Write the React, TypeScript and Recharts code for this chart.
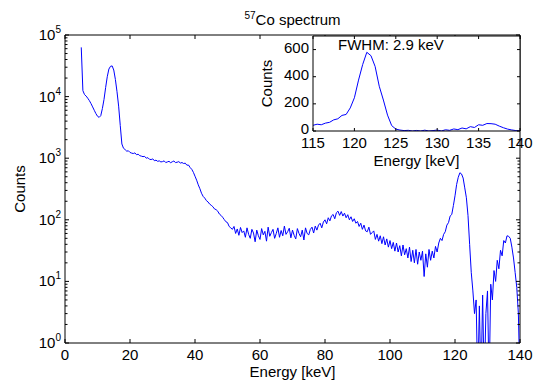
import { LineChart, Line, XAxis, YAxis, ReferenceLine, CartesianGrid } from 'recharts';

// 57Co spectrum, 0.5 keV bins
const energyKeV = [
  5, 5.5, 6, 6.5, 7, 7.5, 8, 8.5, 9, 9.5,
  10, 10.5, 11, 11.5, 12, 12.5, 13, 13.5, 14, 14.5,
  15, 15.5, 16, 16.5, 17, 17.5, 18, 18.5, 19, 19.5,
  20, 20.5, 21, 21.5, 22, 22.5, 23, 23.5, 24, 24.5,
  25, 25.5, 26, 26.5, 27, 27.5, 28, 28.5, 29, 29.5,
  30, 30.5, 31, 31.5, 32, 32.5, 33, 33.5, 34, 34.5,
  35, 35.5, 36, 36.5, 37, 37.5, 38, 38.5, 39, 39.5,
  40, 40.5, 41, 41.5, 42, 42.5, 43, 43.5, 44, 44.5,
  45, 45.5, 46, 46.5, 47, 47.5, 48, 48.5, 49, 49.5,
  50, 50.5, 51, 51.5, 52, 52.5, 53, 53.5, 54, 54.5,
  55, 55.5, 56, 56.5, 57, 57.5, 58, 58.5, 59, 59.5,
  60, 60.5, 61, 61.5, 62, 62.5, 63, 63.5, 64, 64.5,
  65, 65.5, 66, 66.5, 67, 67.5, 68, 68.5, 69, 69.5,
  70, 70.5, 71, 71.5, 72, 72.5, 73, 73.5, 74, 74.5,
  75, 75.5, 76, 76.5, 77, 77.5, 78, 78.5, 79, 79.5,
  80, 80.5, 81, 81.5, 82, 82.5, 83, 83.5, 84, 84.5,
  85, 85.5, 86, 86.5, 87, 87.5, 88, 88.5, 89, 89.5,
  90, 90.5, 91, 91.5, 92, 92.5, 93, 93.5, 94, 94.5,
  95, 95.5, 96, 96.5, 97, 97.5, 98, 98.5, 99, 99.5,
  100, 100.5, 101, 101.5, 102, 102.5, 103, 103.5, 104, 104.5,
  105, 105.5, 106, 106.5, 107, 107.5, 108, 108.5, 109, 109.5,
  110, 110.5, 111, 111.5, 112, 112.5, 113, 113.5, 114, 114.5,
  115, 115.5, 116, 116.5, 117, 117.5, 118, 118.5, 119, 119.5,
  120, 120.5, 121, 121.5, 122, 122.5, 123, 123.5, 124, 124.5,
  125, 125.5, 126, 126.5, 127, 127.5, 128, 128.5, 129, 129.5,
  130, 130.5, 131, 131.5, 132, 132.5, 133, 133.5, 134, 134.5,
  135, 135.5, 136, 136.5, 137, 137.5, 138, 138.5, 139, 139.5,
  140,
];

const counts = [
  63000, 12500, 10800, 10200, 9400, 8600, 7700, 6800, 6000, 5300,
  4800, 4600, 4900, 6400, 9000, 14000, 21000, 28000, 31000, 31500,
  27000, 19000, 12000, 7000, 3400, 1700, 1450, 1380, 1300, 1320,
  1240, 1210, 1190, 1220, 1140, 1160, 1100, 1080, 1060, 1070,
  1000, 1020, 960, 950, 975, 910, 930, 890, 905, 870,
  880, 905, 850, 870, 890, 845, 875, 900, 850, 860,
  880, 835, 850, 820, 830, 770, 775, 705, 660, 590,
  510, 440, 370, 320, 270, 240, 225, 205, 195, 180,
  172, 163, 150, 146, 138, 124, 118, 110, 101, 93,
  90, 78, 74, 70, 78, 60, 71, 56, 75, 62,
  66, 52, 74, 58, 50, 70, 61, 44, 68, 55,
  48, 72, 57, 65, 45, 76, 54, 62, 70, 50,
  60, 74, 52, 67, 55, 79, 58, 64, 73, 51,
  68, 56, 49, 72, 60, 53, 68, 47, 74, 60,
  57, 70, 76, 61, 79, 68, 82, 88, 74, 92,
  100, 86, 108, 96, 116, 122, 104, 130, 138, 118,
  136, 115, 128, 108, 121, 100, 112, 94, 104, 88,
  94, 78, 88, 70, 82, 66, 64, 76, 58, 62,
  66, 48, 58, 45, 55, 41, 53, 39, 49, 36,
  46, 34, 43, 31, 42, 30, 38, 26, 39, 27,
  34, 24, 36, 21, 32, 20, 33, 19, 30, 22,
  31, 12, 28, 17, 33, 22, 31, 24, 37, 30,
  42, 50, 46, 58, 64, 82, 90, 115, 122, 170,
  245, 375, 490, 580, 555, 476, 330, 228, 117, 40,
  14, 7, 3, 5, 0, 4, 0, 6, 0, 3,
  7, 0, 9, 5, 15, 10, 22, 16, 32, 26,
  46, 42, 55, 54, 50, 36, 24, 14, 8, 3,
  0,
];

const mainXTicks = [0, 20, 40, 60, 80, 100, 120, 140];
const mainYTicks = [
  1, 2, 3, 4, 5, 6, 7, 8, 9,
  10, 20, 30, 40, 50, 60, 70, 80, 90,
  100, 200, 300, 400, 500, 600, 700, 800, 900,
  1000, 2000, 3000, 4000, 5000, 6000, 7000, 8000, 9000,
  10000, 20000, 30000, 40000, 50000, 60000, 70000, 80000, 90000,
  100000,
];
const insetXTicks = [115, 120, 125, 130, 135, 140];
const insetYTicks = [0, 200, 400, 600];

const W = 537;
const H = 383;
// main plot box
const PL = 65, PR = 520, PT = 35, PB = 343;
// inset plot box
const IL = 313, IR = 520, IT = 36, IB = 131;

const FONT = '"Liberation Sans", Arial, Helvetica, sans-serif';
const FS = 15;
const BLUE = '#0000ff';

// zero counts can't sit on a log axis; push them below the bottom so they clip
const mainTable = energyKeV.map((e, i) => ({ e, c: Math.max(counts[i], 0.2) }));
const insetTable = energyKeV.map((e, i) => ({ e, c: counts[i] })).filter((d) => d.e >= 115);

const MainXTick = (props: any) => {
  const { x, payload } = props;
  return (
    <g>
      <line x1={x} x2={x} y1={PB} y2={PB - 4} stroke="#000" />
      <line x1={x} x2={x} y1={PT} y2={PT + 4} stroke="#000" />
      <text x={x} y={PB + 17} textAnchor="middle" fontFamily={FONT} fontSize={FS} fill="#000">
        {payload.value}
      </text>
    </g>
  );
};

const MainYTick = (props: any) => {
  const { y, payload } = props;
  const p = Math.log10(payload.value);
  const major = Math.abs(p - Math.round(p)) < 1e-9;
  const len = major ? 4 : 2.5;
  return (
    <g>
      <line x1={PL} x2={PL + len} y1={y} y2={y} stroke="#000" />
      <line x1={PR} x2={PR - len} y1={y} y2={y} stroke="#000" />
      {major && (
        <text x={PL - 4} y={y + 5} textAnchor="end" fontFamily={FONT} fontSize={FS} fill="#000">
          10<tspan dy={-7} fontSize={10}>{Math.round(p)}</tspan>
        </text>
      )}
    </g>
  );
};

const InsetXTick = (props: any) => {
  const { x, payload } = props;
  return (
    <g>
      <line x1={x} x2={x} y1={IB} y2={IB - 3} stroke="#000" />
      <line x1={x} x2={x} y1={IT} y2={IT + 3} stroke="#000" />
      <text x={x} y={IB + 17} textAnchor="middle" fontFamily={FONT} fontSize={FS} fill="#000">
        {payload.value}
      </text>
    </g>
  );
};

const InsetYTick = (props: any) => {
  const { y, payload } = props;
  return (
    <g>
      <line x1={IL} x2={IL + 3} y1={y} y2={y} stroke="#000" />
      <line x1={IR} x2={IR - 3} y1={y} y2={y} stroke="#000" />
      <text x={IL - 4} y={y + 3} textAnchor="end" fontFamily={FONT} fontSize={FS} fill="#000">
        {payload.value}
      </text>
    </g>
  );
};

export default function App() {
  return (
    <div style={{ position: 'absolute', left: 0, top: 0, width: W, height: H, background: '#fff' }}>
      {/* main log spectrum */}
      <div style={{ position: 'absolute', left: 0, top: 0 }}>
        <LineChart width={W} height={H} data={mainTable} margin={{ top: PT, right: W - PR, bottom: 0, left: 0 }}>
          <XAxis
            dataKey="e"
            type="number"
            domain={[0, 140]}
            ticks={mainXTicks}
            interval={0}
            allowDataOverflow
            height={H - PB}
            tickLine={false}
            axisLine={{ stroke: '#000' }}
            tick={<MainXTick />}
          />
          <YAxis
            type="number"
            scale="log"
            domain={[1, 100000]}
            ticks={mainYTicks}
            interval={0}
            allowDataOverflow
            width={PL}
            tickLine={false}
            axisLine={{ stroke: '#000' }}
            tick={<MainYTick />}
          />
          <ReferenceLine y={100000} stroke="#000" />
          <ReferenceLine x={140} stroke="#000" />
          <Line
            dataKey="c"
            type="linear"
            stroke={BLUE}
            strokeWidth={1}
            dot={false}
            isAnimationActive={false}
          />
        </LineChart>
      </div>

      {/* zoomed inset, linear counts */}
      <div style={{ position: 'absolute', left: 0, top: 0 }}>
        <LineChart width={W} height={H} data={insetTable} margin={{ top: IT, right: W - IR, bottom: 0, left: 0 }}>
          <CartesianGrid fill="#fff" horizontal={false} vertical={false} />
          <XAxis
            dataKey="e"
            type="number"
            domain={[115, 140]}
            ticks={insetXTicks}
            interval={0}
            allowDataOverflow
            height={H - IB}
            tickLine={false}
            axisLine={{ stroke: '#000' }}
            tick={<InsetXTick />}
          />
          <YAxis
            type="number"
            domain={[0, 700]}
            ticks={insetYTicks}
            interval={0}
            allowDataOverflow
            width={IL}
            tickLine={false}
            axisLine={{ stroke: '#000' }}
            tick={<InsetYTick />}
          />
          <ReferenceLine y={700} stroke="#000" />
          <ReferenceLine x={140} stroke="#000" />
          <Line
            dataKey="c"
            type="linear"
            stroke={BLUE}
            strokeWidth={1}
            dot={false}
            isAnimationActive={false}
          />
        </LineChart>
      </div>

      {/* titles and labels */}
      <svg
        width={W}
        height={H}
        style={{ position: 'absolute', left: 0, top: 0, pointerEvents: 'none' }}
        fontFamily={FONT}
        fontSize={FS}
      >
        <text x={(PL + PR) / 2} y={25} textAnchor="middle" fill="#000">
          <tspan fontSize={10} dy={-6}>57</tspan>
          <tspan dy={6}>Co spectrum</tspan>
        </text>
        <text x={(PL + PR) / 2} y={377} textAnchor="middle" fill="#000">Energy [keV]</text>
        <text x={25} y={(PT + PB) / 2} textAnchor="middle" fill="#000" transform={`rotate(-90 25 ${(PT + PB) / 2})`}>
          Counts
        </text>
        <text x={(IL + IR) / 2} y={IB + 35} textAnchor="middle" fill="#000">Energy [keV]</text>
        <text x={272} y={(IT + IB) / 2} textAnchor="middle" fill="#000" transform={`rotate(-90 272 ${(IT + IB) / 2})`}>
          Counts
        </text>
        <text x={338} y={50} fill="#000">FWHM: 2.9 keV</text>
      </svg>
    </div>
  );
}
